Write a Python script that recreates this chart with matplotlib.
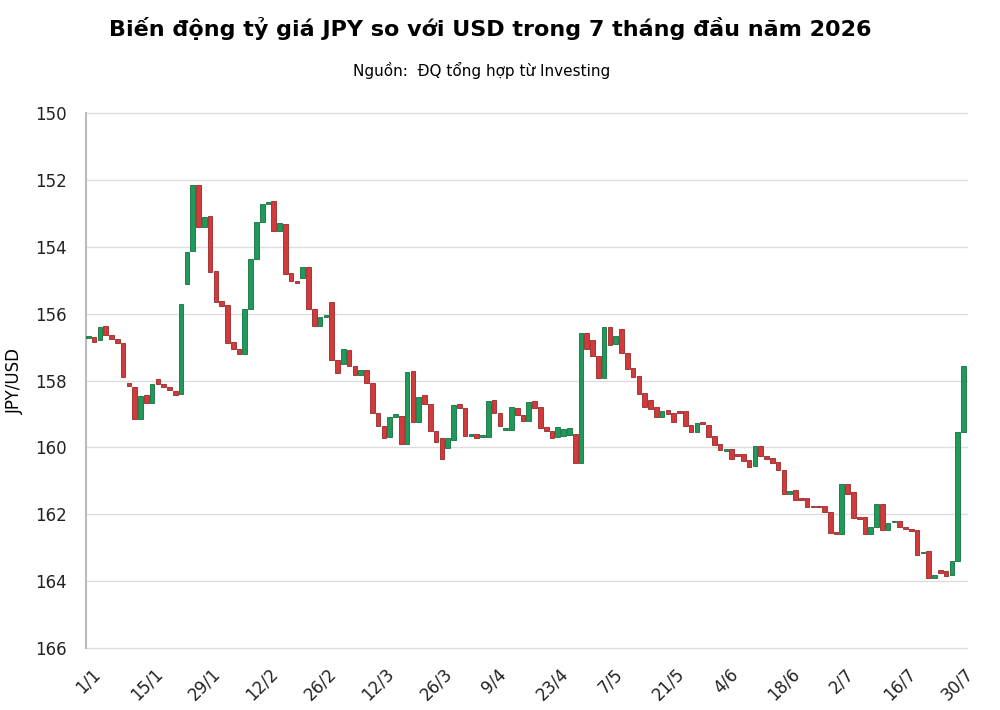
import numpy as np
import matplotlib
matplotlib.use("Agg")
import matplotlib.pyplot as plt

# giá mở / đóng của từng phiên (JPY/USD)
open_ = [156.72, 156.69, 156.79, 156.37, 156.65, 156.77, 156.87, 158.08, 158.18, 159.15,
         158.42, 158.66, 157.96, 158.10, 158.18, 158.30, 158.41, 155.12, 154.13, 152.15,
         153.40, 153.07, 154.73, 155.62, 155.74, 156.84, 157.05, 157.22, 155.86, 154.37,
         153.25, 152.72, 152.63, 153.52, 153.31, 154.78, 155.01, 154.94, 154.62, 155.87,
         156.38, 156.11, 155.64, 157.39, 157.51, 157.09, 157.57, 157.82, 157.69, 158.06,
         158.96, 159.36, 159.68, 159.10, 159.05, 159.90, 157.72, 159.25, 158.43, 158.71,
         159.51, 159.73, 160.01, 159.78, 158.71, 158.83, 159.65, 159.60, 159.70, 159.68,
         158.58, 158.98, 159.48, 159.48, 158.83, 159.03, 159.20, 158.61, 158.78, 159.38,
         159.51, 159.68, 159.65, 159.63, 159.60, 160.46, 156.59, 156.79, 157.26, 157.91,
         156.39, 156.91, 156.47, 157.19, 157.62, 157.86, 158.38, 158.58, 158.80, 159.10,
         158.88, 158.98, 158.91, 158.91, 159.33, 159.55, 159.23, 159.33, 159.66, 159.91,
         160.10, 160.05, 160.18, 160.18, 160.38, 160.55, 159.95, 160.25, 160.32, 160.42,
         160.68, 161.39, 161.26, 161.52, 161.51, 161.74, 161.74, 161.76, 161.94, 162.52,
         162.60, 161.10, 161.34, 162.09, 162.09, 162.60, 162.38, 161.69, 162.46, 162.24,
         162.19, 162.37, 162.43, 162.48, 163.16, 163.10, 163.89, 163.67, 163.70, 163.82,
         163.40, 159.53]
close = [156.68, 156.85, 156.39, 156.65, 156.77, 156.87, 157.90, 158.17, 159.15, 158.46,
         158.66, 158.10, 158.10, 158.20, 158.28, 158.43, 155.71, 154.15, 152.15, 153.40,
         153.10, 154.77, 155.64, 155.76, 156.89, 157.07, 157.22, 155.86, 154.37, 153.25,
         152.72, 152.67, 153.52, 153.29, 154.82, 155.01, 155.07, 154.62, 155.87, 156.38,
         156.11, 156.05, 157.39, 157.76, 157.06, 157.57, 157.82, 157.69, 158.06, 158.96,
         159.36, 159.73, 159.08, 159.01, 159.90, 157.74, 159.25, 158.48, 158.71, 159.51,
         159.83, 160.35, 159.73, 158.73, 158.83, 159.65, 159.60, 159.71, 159.63, 158.60,
         158.98, 159.35, 159.43, 158.80, 159.03, 159.20, 158.63, 158.81, 159.41, 159.51,
         159.73, 159.40, 159.45, 159.43, 160.46, 156.59, 157.06, 157.26, 157.91, 156.39,
         156.94, 156.67, 157.19, 157.66, 157.88, 158.40, 158.78, 158.86, 159.10, 158.91,
         159.01, 159.23, 158.96, 159.35, 159.53, 159.28, 159.31, 159.68, 159.93, 160.08,
         160.05, 160.33, 160.25, 160.40, 160.58, 159.95, 160.25, 160.35, 160.47, 160.67,
         161.39, 161.29, 161.57, 161.57, 161.79, 161.79, 161.79, 161.94, 162.56, 162.58,
         161.10, 161.39, 162.12, 162.14, 162.60, 162.37, 161.69, 162.46, 162.26, 162.19,
         162.38, 162.43, 162.51, 163.20, 163.11, 163.89, 163.82, 163.74, 163.84, 163.40,
         159.53, 157.57]

tick_labels = ["1/1", "15/1", "29/1", "12/2", "26/2", "12/3", "26/3", "9/4",
               "23/4", "7/5", "21/5", "4/6", "18/6", "2/7", "16/7", "30/7"]
y_ticks = [150, 152, 154, 156, 158, 160, 162, 164, 166]

GREEN = "#1f9a5b"
RED = "#d23b3b"

fig = plt.figure(figsize=(10, 7.1), dpi=100)
ax = fig.add_axes([0.086, 0.087, 0.881, 0.754])

x = np.arange(len(open_))
o = np.array(open_)
c = np.array(close)
lo = np.minimum(o, c)
h = np.abs(c - o)
h = np.maximum(h, 0.04)  # phiên gần như không đổi vẫn thấy vạch
colors = [GREEN if cc < oo else RED for oo, cc in zip(o, c)]
edges = ["#13703f" if cc < oo else "#9a2626" for oo, cc in zip(o, c)]
ax.bar(x, h, bottom=lo, width=0.8, color=colors, edgecolor=edges, linewidth=0.6, zorder=3)

ax.set_ylim(166, 150)
ax.set_yticks(y_ticks)
ax.set_xlim(-0.4, 151.6)
ax.set_xticks(np.arange(0, 151, 10))
ax.set_xticklabels(tick_labels, rotation=45, ha="center")
ax.tick_params(length=0, labelsize=12, labelcolor="#222222")
ax.tick_params(axis="x", pad=12)
ax.tick_params(axis="y", pad=14)
ax.grid(axis="y", color="#dddddd", linewidth=1, zorder=0, clip_on=False)
for s in ["top", "right", "bottom"]:
    ax.spines[s].set_visible(False)
ax.spines["left"].set_color("#bbbbbb")
ax.spines["left"].set_linewidth(1.5)
ax.set_ylabel("JPY/USD", fontsize=12, labelpad=8)

fig.text(0.49, 0.96, "Biến động tỷ giá JPY so với USD trong 7 tháng đầu năm 2026",
         ha="center", va="center", fontsize=16, fontweight="bold")
fig.text(0.482, 0.901, "Nguồn:  ĐQ tổng hợp từ Investing", ha="center", va="center",
         fontsize=11)

fig.savefig("out.png", dpi=100, facecolor="white")
